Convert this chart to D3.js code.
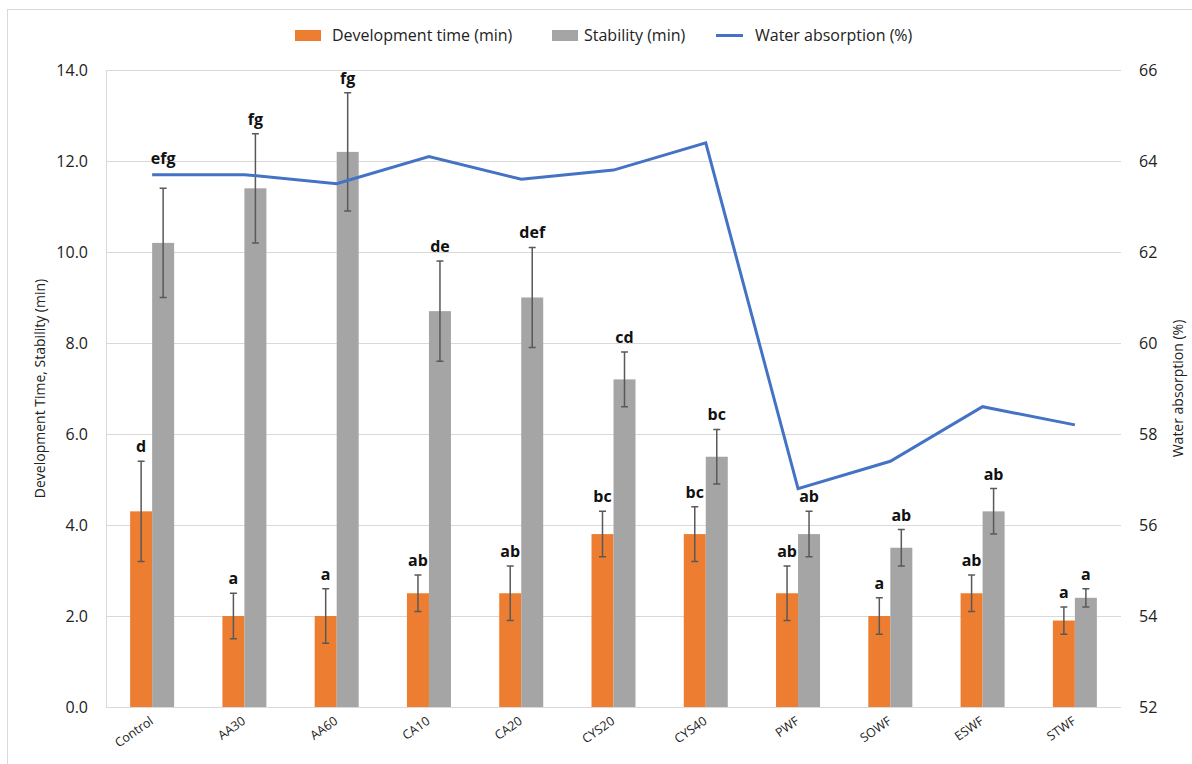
<!DOCTYPE html>
<html lang="en">
<head>
<meta charset="utf-8">
<title>dough properties</title>
<script src="https://d3js.org/d3.v7.min.js"></script>
<style>
  body{margin:0;background:#fff;font-family:"Open Sans",sans-serif;}
</style>
</head>
<body>
<div id="chart1"></div>
<script>
// values
var samples = ["Control","AA30","AA60","CA10","CA20","CYS20","CYS40","PWF","SOWF","ESWF","STWF"]
var devTime = [4.3, 2.0, 2.0, 2.5, 2.5, 3.8, 3.8, 2.5, 2.0, 2.5, 1.9]
var devErr = [1.1, 0.5, 0.6, 0.4, 0.6, 0.5, 0.6, 0.6, 0.4, 0.4, 0.3]
var devLetters = ["d","a","a","ab","ab","bc","bc","ab","a","ab","a"]
var stability = [10.2, 11.4, 12.2, 8.7, 9.0, 7.2, 5.5, 3.8, 3.5, 4.3, 2.4]
var stabErr = [1.2, 1.2, 1.3, 1.1, 1.1, 0.6, 0.6, 0.5, 0.4, 0.5, 0.2]
var stabLetters = ["efg","fg","fg","de","def","cd","bc","ab","ab","ab","a"]
var waterAbs = [63.7, 63.7, 63.5, 64.1, 63.6, 63.8, 64.4, 56.8, 57.4, 58.6, 58.2]
var leftTicks = [0, 2, 4, 6, 8, 10, 12, 14]
var rightTicks = [52, 54, 56, 58, 60, 62, 64, 66]

var w = 1192, h = 764
var m = {left:106, right:1121, top:70, bottom:707}
var orange = "#ED7D31", gray = "#A5A5A5", blue = "#4472C4"

var svg = d3.select("#chart1").append("svg").attr("width", w).attr("height", h)

// chart frame
svg.append("rect").attr("x",7.5).attr("y",9.5).attr("width",1300).attr("height",900)
    .attr("fill","none").attr("stroke","#d9d9d9")

var xScale = d3.scaleBand().domain(samples).range([m.left, m.right])
var groupW = 44
var xSub = d3.scaleBand().domain(["dev","stab"]).range([-groupW/2, groupW/2])
var yScale = d3.scaleLinear().domain([0,14]).range([m.bottom, m.top])
var y2Scale = d3.scaleLinear().domain([52,66]).range([m.bottom, m.top])
function cx(d){ return xScale(d) + xScale.bandwidth()/2 }
var midY = (m.top + m.bottom)/2

// grid
svg.selectAll(".grid").data(leftTicks).enter().append("line")
    .attr("x1", m.left).attr("x2", m.right)
    .attr("y1", function(d){ return yScale(d) + 0.5 })
    .attr("y2", function(d){ return yScale(d) + 0.5 })
    .attr("stroke","#d9d9d9").attr("stroke-width",1)
svg.append("line").attr("x1", m.left+0.5).attr("x2", m.left+0.5)
    .attr("y1", m.top).attr("y2", m.bottom).attr("stroke","#d9d9d9")

// left axis labels
svg.selectAll(".ly").data(leftTicks).enter().append("text")
    .attr("x", 88).attr("y", function(d){ return yScale(d) + 6 })
    .attr("text-anchor","end").attr("font-size",16).attr("fill","#222")
    .text(function(d){ return d3.format(".1f")(d) })
// right axis labels
svg.selectAll(".ry").data(rightTicks).enter().append("text")
    .attr("x", 1139).attr("y", function(d){ return y2Scale(d) + 6 })
    .attr("text-anchor","start").attr("font-size",16).attr("fill","#222")
    .text(function(d){ return d })

// axis titles
svg.append("text").attr("transform","translate(45," + midY + ") rotate(-90)")
    .attr("text-anchor","middle").attr("font-size",14).attr("fill","#222")
    .text("Development Time, Stability (min)")
svg.append("text").attr("transform","translate(1183," + midY + ") rotate(-90)")
    .attr("text-anchor","middle").attr("font-size",14).attr("fill","#222")
    .text("Water absorption (%)")

// x labels
svg.selectAll(".xl").data(samples).enter().append("text")
    .attr("transform", function(d){ return "translate(" + (cx(d)+2) + ",723) rotate(-35)" })
    .attr("text-anchor","end").attr("font-size",12.5).attr("fill","#222")
    .text(function(d){ return d })

// bars
function drawBars(vals, errs, letters, key, color){
    var g = svg.append("g")
    var xs = function(i){ return cx(samples[i]) + xSub(key) }
    g.selectAll("rect").data(vals).enter().append("rect")
        .attr("x", function(d,i){ return xs(i) })
        .attr("y", function(d){ return yScale(d) })
        .attr("width", xSub.bandwidth())
        .attr("height", function(d){ return m.bottom - yScale(d) })
        .attr("fill", color)
    var mid = function(i){ return xs(i) + xSub.bandwidth()/2 }
    g.selectAll(".eb").data(vals).enter().append("path")
        .attr("d", function(d,i){
            var x = mid(i), t = yScale(d + errs[i]), b = yScale(d - errs[i])
            return "M"+x+","+t+"V"+b+"M"+(x-3.5)+","+t+"H"+(x+3.5)+"M"+(x-3.5)+","+b+"H"+(x+3.5)
        })
        .attr("stroke","#595959").attr("stroke-width",1.5).attr("fill","none")
    g.selectAll(".lb").data(letters).enter().append("text")
        .attr("x", function(d,i){ return mid(i) })
        .attr("y", function(d,i){
            var y = yScale(vals[i] + errs[i]) - 9
            var ly = y2Scale(waterAbs[i])
            // lift a letter that would sit on the water absorption line
            if (ly > y - 5 && ly - (y - 5) < 15) y = ly - 11
            return y
        })
        .attr("text-anchor","middle").attr("font-size",16).attr("font-weight","bold")
        .attr("fill","#111")
        .text(function(d){ return d })
}
drawBars(devTime, devErr, devLetters, "dev", orange)
drawBars(stability, stabErr, stabLetters, "stab", gray)

// water absorption line
var line = d3.line().x(function(d,i){ return cx(samples[i]) }).y(function(d){ return y2Scale(d) })
svg.append("path").datum(waterAbs).attr("d", line)
    .attr("fill","none").attr("stroke", blue).attr("stroke-width",3)

// legend
var legend = svg.append("g").attr("font-size",16).attr("fill","#222")
legend.append("rect").attr("x",295).attr("y",30).attr("width",26).attr("height",11).attr("fill",orange)
legend.append("text").attr("x",332).attr("y",41).text("Development time (min)")
legend.append("rect").attr("x",552).attr("y",30).attr("width",26).attr("height",11).attr("fill",gray)
legend.append("text").attr("x",584).attr("y",41).text("Stability (min)")
legend.append("line").attr("x1",716).attr("x2",743).attr("y1",35.5).attr("y2",35.5)
    .attr("stroke",blue).attr("stroke-width",3)
legend.append("text").attr("x",755).attr("y",41).text("Water absorption (%)")
</script>
</body>
</html>
